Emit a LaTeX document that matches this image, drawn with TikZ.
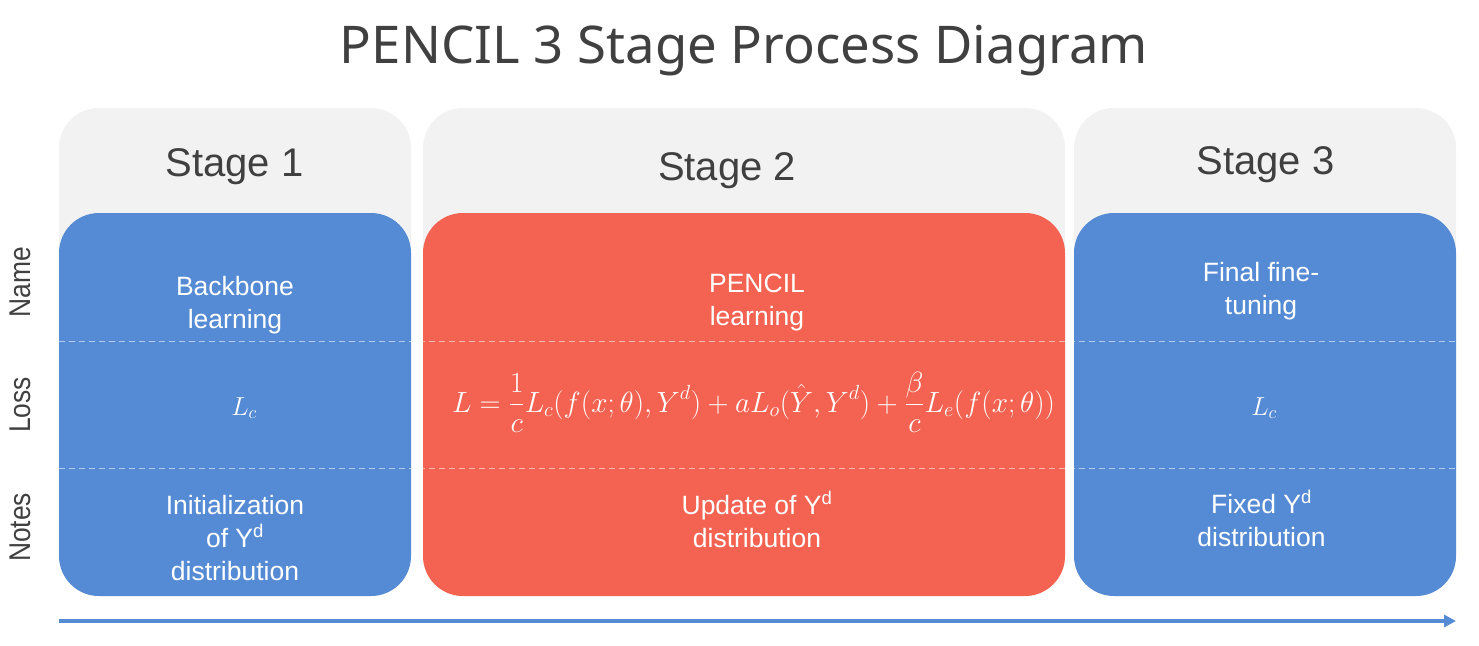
\RequirePackage{fix-cm}
\documentclass[tikz,border=0pt]{standalone}
\usepackage{fontspec}
\usepackage{graphicx}
\setmainfont{Liberation Sans}
\newfontfamily\titlefont{Noto Sans}
\usetikzlibrary{arrows.meta}
\definecolor{stgray}{HTML}{F2F2F2}
\definecolor{stblue}{HTML}{558BD4}
\definecolor{stred}{HTML}{F46352}
\definecolor{txtdark}{HTML}{404040}
\begin{document}
\begin{tikzpicture}[x=1pt,y=-1pt,
  graybox/.style={fill=stgray, draw=none, rounded corners=40pt, inner sep=0pt, minimum height=488pt},
  colbox/.style={draw=none, rounded corners=40pt, inner sep=0pt, minimum height=383pt},
  stagelabel/.style={anchor=base, text=txtdark, font=\fontsize{40}{48}\selectfont, inner sep=0pt},
  bodytext/.style={anchor=base, text=white, align=center, font=\fontsize{26.5}{33}\selectfont, inner sep=0pt},
  mathtext/.style={anchor=base, text=white, font=\fontsize{26}{32}\selectfont, inner sep=0pt},
  rowlabel/.style={rotate=90, text=txtdark, font=\fontsize{30}{36}\selectfont, inner sep=0pt},
  dashline/.style={white, opacity=0.55, line width=1pt, dash pattern=on 6pt off 4pt},
  timearrow/.style={stblue, line width=4pt, -{Triangle[length=12pt,width=12pt]}}
]
\useasboundingbox (0,0) rectangle (1479,645);

% title
\node[anchor=base, text=txtdark, inner sep=0pt, font=\titlefont\fontsize{52}{60}\selectfont] (title) at (744,63) {\resizebox{808pt}{\height}{PENCIL 3 Stage Process Diagram}};

% gray stage boxes
\node[graybox, minimum width=352pt] (g1) at (235,352) {};
\node[graybox, minimum width=642pt] (g2) at (744,352) {};
\node[graybox, minimum width=382pt] (g3) at (1265,352) {};

% coloured boxes
\node[colbox, fill=stblue, minimum width=352pt] (b1) at (235,404.5) {};
\node[colbox, fill=stred, minimum width=642pt] (b2) at (744,404.5) {};
\node[colbox, fill=stblue, minimum width=382pt] (b3) at (1265,404.5) {};

% dashed row separators
\coordinate (d1s) at (59,341);
\coordinate (d1e) at (1456,341);
\coordinate (d2s) at (59,468);
\coordinate (d2e) at (1456,468);
\draw[dashline] (d1s) -- (d1e);
\draw[dashline] (d2s) -- (d2e);

% stage labels
\node[stagelabel] (s1) at (234.5,176) {Stage 1};
\node[stagelabel] (s2) at (727,180) {Stage 2};
\node[stagelabel] (s3) at (1265.5,174) {Stage 3};

% row labels
\node[rowlabel] (rname) at (20,282.5) {\scalebox{0.88}[1]{Name}};
\node[rowlabel] (rloss) at (20,405) {\scalebox{0.88}[1]{Loss}};
\node[rowlabel] (rnotes) at (20,527.5) {\scalebox{0.88}[1]{Notes}};

% name row (anchor base = last line)
\node[bodytext] (n1) at (235,328) {Backbone\\learning};
\node[bodytext] (n2) at (757,325) {PENCIL\\learning};
\node[bodytext] (n3) at (1261,314) {Final fine-\\tuning};

% loss row
\node[mathtext] (l1) at (244,415) {$L_c$};
\node[mathtext] (l2) at (753.5,412) {\resizebox{603pt}{!}{$\displaystyle L=\frac{1}{c}L_c\Bigl(f(x;\theta),Y^d\Bigr)+aL_o\Bigl(\hat{Y},Y^d\Bigr)+\frac{\beta}{c}L_e\Bigl(f(x;\theta)\Bigr)$}};
\node[mathtext] (l3) at (1264,415) {$L_c$};

% notes row
\node[bodytext] (o1) at (235,580) {Initialization\\of Y\textsuperscript{d}\\distribution};
\node[bodytext] (o2) at (757,547) {Update of Y\textsuperscript{d}\\distribution};
\node[bodytext] (o3) at (1261.5,546) {Fixed Y\textsuperscript{d}\\distribution};

% time arrow
\coordinate (as) at (59,621);
\coordinate (ae) at (1456,621);
\draw[timearrow] (as) -- (ae);
\end{tikzpicture}
\end{document}
